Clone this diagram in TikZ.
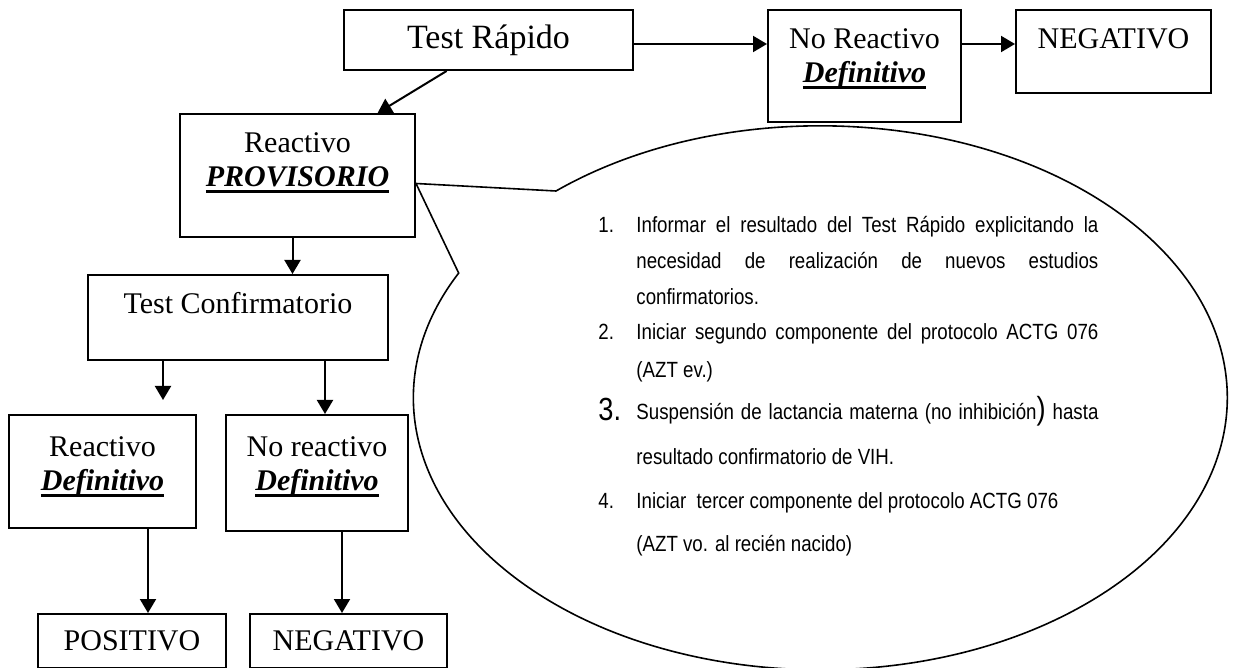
\documentclass[tikz,border=0pt]{standalone}
\usepackage{fontspec}
\setmainfont{Liberation Serif}
\newfontfamily\narrowsans[FakeStretch=0.85]{Liberation Sans}
\usetikzlibrary{arrows.meta,calc}
\newcommand{\thickul}[1]{\setbox0\hbox{#1}\rlap{\rule[-3.5pt]{\wd0}{1.5pt}}\box0}
\newcommand{\deftext}[1]{\thickul{\textbf{\textit{#1}}}}
\tikzset{
  box/.style={draw, line width=1pt, inner sep=0pt, anchor=north west,
    font=\fontsize{15}{17}\selectfont},
  toptext/.style={anchor=north, yshift=-#1, inner sep=0pt, align=center,
    font=\fontsize{15}{17}\selectfont},
  arr/.style={-{Triangle[length=7pt,width=8pt]}, line width=1pt},
  note/.style={anchor=base west, inner sep=0pt,
    font=\narrowsans\fontsize{11}{13}\selectfont}
}
\begin{document}
\begin{tikzpicture}[x=0.5pt,y=-0.5pt]
  \useasboundingbox (0,0) rectangle (1233,668);
  \node[box, minimum width=144.5pt, minimum height=30pt,
    font=\fontsize{17}{20}\selectfont] (tr) at (343,9) {Test Rápido};
  \node[box, minimum width=96.5pt, minimum height=56pt,
    label={[toptext=9.5pt]north:{No Reactivo\\\deftext{Definitivo}}}] (nr) at (767,9) {};
  \node[box, minimum width=97.5pt, minimum height=41.5pt,
    label={[toptext=9.5pt]north:{NEGATIVO}}] (neg1) at (1015,9) {};
  \node[box, minimum width=117.5pt, minimum height=61.5pt,
    label={[toptext=9.5pt]north:{Reactivo\\\deftext{PROVISORIO}}}] (rp) at (179,113) {};
  \node[box, minimum width=150pt, minimum height=42.5pt,
    label={[toptext=9pt]north:{Test Confirmatorio}}] (tc) at (87,274) {};
  \node[box, minimum width=93.5pt, minimum height=56.5pt,
    label={[toptext=11pt]north:{Reactivo\\\deftext{Definitivo}}}] (rd) at (8,414) {};
  \node[box, minimum width=91pt, minimum height=58pt,
    label={[toptext=11pt]north:{No reactivo\\\deftext{Definitivo}}}] (nd) at (225,414) {};
  \node[box, minimum width=94pt, minimum height=27pt] (pos) at (37,613) {POSITIVO};
  \node[box, minimum width=98.5pt, minimum height=27pt] (neg2) at (249,613) {NEGATIVO};

  \draw[arr] ([yshift=-2pt]tr.east) -- ([yshift=-2pt]tr.east -| nr.west);
  \draw[arr] ([yshift=-2pt]tr.east -| nr.east) -- ([yshift=-2pt]tr.east -| neg1.west);
  \draw[arr] ($(tr.south west)!0.356!(tr.south east)$) -- ($(rp.north west)!0.838!(rp.north east)$);
  \draw[arr] ([xshift=-2.5pt]rp.south) -- ([xshift=-2.5pt]rp.south |- tc.north);
  \draw[arr] ($(tc.south west)+(76,0)$) -- ($(tc.south west |- rd.north)+(76,-14)$);
  \draw[arr] ($(tc.south west)+(238,0)$) -- ($(tc.south west |- nd.north)+(238,0)$);
  \draw[arr] ($(rd.south west)+(140,0)$) -- ($(rd.south west |- pos.north)+(140,0)$);
  \draw[arr] ($(nd.south west)+(117,0)$) -- ($(nd.south west |- neg2.north)+(117,0)$);

  \coordinate (tip) at ([yshift=-4pt]rp.east);
  \draw[line width=0.8pt] (tip) -- (556,191)
    arc[start angle=-130.5, end angle=207.3, x radius=407, y radius=272] -- cycle;

  \node[note] (n1) at (598,233) {1.};
  \node[note] (l1) at (636,233) {\makebox[231pt][s]{Informar el resultado del Test Rápido explicitando la}};
  \node[note] (l2) at (636,269) {\makebox[231pt][s]{necesidad de realización de nuevos estudios}};
  \node[note] (l3) at (636,305) {confirmatorios.};
  \node[note] (n2) at (598,340) {2.};
  \node[note] (l4) at (636,340) {\makebox[231pt][s]{Iniciar segundo componente del protocolo ACTG 076}};
  \node[note] (l5) at (636,378) {(AZT ev.)};
  \node[note, font=\narrowsans\fontsize{16}{18}\selectfont] (n3) at (598,421) {3.};
  \node[note] (l6) at (636,420) {\makebox[231pt][s]{Suspensión de lactancia materna (no inhibición{\fontsize{16}{18}\selectfont)} hasta}};
  \node[note] (l7) at (636,465) {resultado confirmatorio de VIH.};
  \node[note] (n4) at (598,509) {4.};
  \node[note] (l8) at (636,509) {Iniciar\ \ tercer componente del protocolo ACTG 076};
  \node[note] (l9) at (636,552) {(AZT vo. al recién nacido)};
\end{tikzpicture}
\end{document}
